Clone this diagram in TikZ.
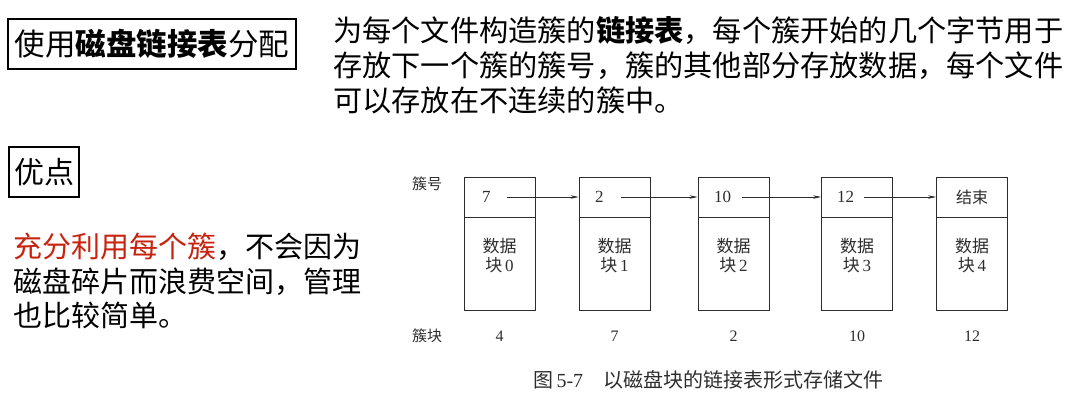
\documentclass[tikz,border=0pt]{standalone}
\usepackage{fontspec}
\setmainfont{Noto Sans CJK SC}
\newfontfamily\dig{Liberation Serif}
\usetikzlibrary{arrows.meta}
\definecolor{redtxt}{RGB}{200,35,15}
\definecolor{ink}{RGB}{45,45,45}
\begin{document}
\begin{tikzpicture}[x=1pt,y=-1pt,
  frame/.style={draw=black,line width=1.6pt,inner sep=0pt},
  bigtxt/.style={inner sep=0pt,anchor=base west,font=\fontsize{29.2}{35}\selectfont},
  lefttxt/.style={inner sep=0pt,anchor=base west,font=\fontsize{29}{34}\selectfont},
  topcell/.style={draw=ink,line width=0.9pt,minimum width=71pt,minimum height=40pt,inner sep=0pt},
  bodycell/.style={draw=ink,line width=0.9pt,minimum width=71pt,minimum height=93pt,inner sep=0pt},
  numtxt/.style={inner sep=0pt,anchor=west,text=ink,font=\fontsize{17}{19}\selectfont\dig},
  datatxt/.style={inner sep=0pt,align=center,text=ink,font=\fontsize{17}{19}\selectfont},
  smalltxt/.style={inner sep=0pt,text=ink,font=\fontsize{15}{17}\selectfont},
  arr/.style={draw=ink,line width=0.7pt,-{Stealth[length=8pt,width=3.5pt]}}
]
\useasboundingbox (0,0) rectangle (1076,418);

% title box
\node[frame,minimum width=288pt,minimum height=50pt,font=\fontsize{30.5}{34}\selectfont] (title) at (152,44) {使用\textbf{磁盘链接表}分配};

% right paragraph
\node[bigtxt] (p1) at (333,41) {为每个文件构造簇的\textbf{链接表}，每个簇开始的几个字节用于};
\node[bigtxt] (p2) at (333,76) {存放下一个簇的簇号，簇的其他部分存放数据，每个文件};
\node[bigtxt] (p3) at (333,111) {可以存放在不连续的簇中。};

% advantage box
\node[frame,minimum width=70pt,minimum height=50pt,font=\fontsize{30}{34}\selectfont] (adv) at (44,172) {优点};

\node[lefttxt] (q1) at (13,257) {\textcolor{redtxt}{充分利用每个簇}，不会因为};
\node[lefttxt] (q2) at (13,292) {磁盘碎片而浪费空间，管理};
\node[lefttxt] (q3) at (13,326) {也比较简单。};

% diagram
\node[smalltxt] (lblno) at (427,184) {簇号};
\node[smalltxt] (lblblk) at (427,336) {簇块};

\foreach \i/\cx/\nx/\t/\d/\b in {0/499.5/482/7/0/4, 1/614.5/595/2/1/7, 2/733.5/714/10/2/2, 3/857/837/12/3/10}{
  \node[topcell] (t\i) at (\cx,197) {};
  \node[bodycell] (b\i) at (\cx,263.5) {};
  \node[numtxt] (n\i) at (\nx,197) {\t};
  \node[datatxt] (d\i) at (\cx,256) {数据\\块\,{\dig\d}};
  \node[smalltxt,font=\fontsize{16}{18}\selectfont\dig] (k\i) at (\cx,336) {\b};
}
\node[topcell] (t4) at (972,197) {};
\node[bodycell] (b4) at (972,263.5) {};
\node[smalltxt,font=\fontsize{16}{18}\selectfont] (n4) at (972,197) {结束};
\node[datatxt] (d4) at (972,256) {数据\\块\,{\dig 4}};
\node[smalltxt,font=\fontsize{16}{18}\selectfont\dig] (k4) at (972,336) {12};

\draw[arr] ([xshift=16pt]n0.east) -- (t1.west);
\draw[arr] ([xshift=17pt]n1.east) -- (t2.west);
\draw[arr] ([xshift=11pt]n2.east) -- (t3.west);
\draw[arr] ([xshift=10pt]n3.east) -- (t4.west);

% caption
\node[inner sep=0pt,anchor=west,text=ink,font=\fontsize{20}{22}\selectfont] (cap) at (533,380) {图\,{\dig 5-7}\hspace{20pt}以磁盘块的链接表形式存储文件};
\end{tikzpicture}
\end{document}
